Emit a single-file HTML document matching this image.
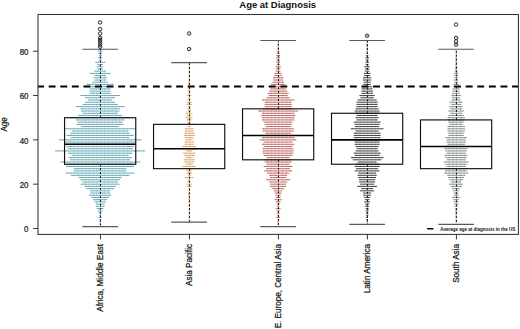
<!DOCTYPE html>
<html><head><meta charset="utf-8"><style>
html,body{margin:0;padding:0;background:#fff;}
svg{display:block;}
text{font-family:"Liberation Sans",sans-serif;fill:#111;}
.t8{font-size:9px;stroke:#111;stroke-width:0.22px;}
</style></head><body>
<svg width="520" height="329" viewBox="0 0 520 329">
<defs>
<pattern id="p0" patternUnits="userSpaceOnUse" x="100.15" y="0" width="3.8" height="3"><rect width="3.8" height="3" fill="#7ab6c0"/><rect width="1.2" height="3" fill="#5d9fab"/></pattern>
<pattern id="p1" patternUnits="userSpaceOnUse" x="189.14" y="0" width="3.8" height="3"><rect width="3.8" height="3" fill="#e3b37e"/><rect width="1.2" height="3" fill="#d09552"/></pattern>
<pattern id="p2" patternUnits="userSpaceOnUse" x="278.13" y="0" width="3.8" height="3"><rect width="3.8" height="3" fill="#c87d76"/><rect width="1.2" height="3" fill="#b5564e"/></pattern>
<pattern id="p3" patternUnits="userSpaceOnUse" x="367.12" y="0" width="3.8" height="3"><rect width="3.8" height="3" fill="#555555"/><rect width="1.2" height="3" fill="#383838"/></pattern>
<pattern id="p4" patternUnits="userSpaceOnUse" x="456.1" y="0" width="3.8" height="3"><rect width="3.8" height="3" fill="#98a29e"/><rect width="1.2" height="3" fill="#6c7672"/></pattern>
</defs>
<rect width="520" height="329" fill="#fff"/>
<text transform="translate(277.7,7.9) scale(1.02,1)" text-anchor="middle" style="font-size:9.3px;font-weight:bold">Age at Diagnosis</text>
<text transform="translate(7.4,124.4) rotate(-90) scale(0.9,1)" text-anchor="middle" class="t8">Age</text>
<g>
<rect x="99.55" y="223.52" width="1.2" height="1.1" fill="url(#p0)"/>
<rect x="99.15" y="221.3" width="2" height="1.1" fill="url(#p0)"/>
<rect x="99.15" y="219.09" width="2" height="1.1" fill="url(#p0)"/>
<rect x="98.65" y="216.87" width="3" height="1.1" fill="url(#p0)"/>
<rect x="99.15" y="214.65" width="2" height="1.1" fill="url(#p0)"/>
<rect x="98.65" y="212.44" width="3" height="1.1" fill="url(#p0)"/>
<rect x="97.75" y="210.22" width="4.8" height="1.1" fill="url(#p0)"/>
<rect x="96.75" y="208.01" width="6.8" height="1.1" fill="url(#p0)"/>
<rect x="95.85" y="205.79" width="8.6" height="1.1" fill="url(#p0)"/>
<rect x="95.65" y="203.57" width="9" height="1.1" fill="url(#p0)"/>
<rect x="94.35" y="201.36" width="11.6" height="1.1" fill="url(#p0)"/>
<rect x="92.95" y="199.14" width="14.4" height="1.1" fill="url(#p0)"/>
<rect x="91.15" y="196.93" width="18" height="1.1" fill="url(#p0)"/>
<rect x="89.15" y="194.71" width="22" height="1.1" fill="url(#p0)"/>
<rect x="90.15" y="192.49" width="20" height="1.1" fill="url(#p0)"/>
<rect x="90.15" y="190.28" width="20" height="1.1" fill="url(#p0)"/>
<rect x="86.25" y="188.06" width="27.8" height="1.1" fill="url(#p0)"/>
<rect x="84.35" y="185.85" width="31.6" height="1.1" fill="url(#p0)"/>
<rect x="80.65" y="183.63" width="39" height="1.1" fill="url(#p0)"/>
<rect x="82.45" y="181.41" width="35.4" height="1.1" fill="url(#p0)"/>
<rect x="80.45" y="179.2" width="39.4" height="1.1" fill="url(#p0)"/>
<rect x="78.55" y="176.98" width="43.2" height="1.1" fill="url(#p0)"/>
<rect x="70.85" y="174.77" width="58.6" height="1.1" fill="url(#p0)"/>
<rect x="65.55" y="172.55" width="69.2" height="1.1" fill="url(#p0)"/>
<rect x="73.75" y="170.33" width="52.8" height="1.1" fill="url(#p0)"/>
<rect x="73.75" y="168.12" width="52.8" height="1.1" fill="url(#p0)"/>
<rect x="66.15" y="165.9" width="68" height="1.1" fill="url(#p0)"/>
<rect x="67.15" y="163.69" width="66" height="1.1" fill="url(#p0)"/>
<rect x="60.15" y="161.47" width="80" height="1.1" fill="url(#p0)"/>
<rect x="70.15" y="159.25" width="60" height="1.1" fill="url(#p0)"/>
<rect x="68.45" y="157.04" width="63.4" height="1.1" fill="url(#p0)"/>
<rect x="71.85" y="154.82" width="56.6" height="1.1" fill="url(#p0)"/>
<rect x="68.15" y="152.61" width="64" height="1.1" fill="url(#p0)"/>
<rect x="55.15" y="150.39" width="90" height="1.1" fill="url(#p0)"/>
<rect x="67.45" y="148.17" width="65.4" height="1.1" fill="url(#p0)"/>
<rect x="66.45" y="145.96" width="67.4" height="1.1" fill="url(#p0)"/>
<rect x="65.15" y="143.74" width="70" height="1.1" fill="url(#p0)"/>
<rect x="65.15" y="141.53" width="70" height="1.1" fill="url(#p0)"/>
<rect x="58.85" y="139.31" width="82.6" height="1.1" fill="url(#p0)"/>
<rect x="70.65" y="137.09" width="59" height="1.1" fill="url(#p0)"/>
<rect x="66.45" y="134.88" width="67.4" height="1.1" fill="url(#p0)"/>
<rect x="70.35" y="132.66" width="59.6" height="1.1" fill="url(#p0)"/>
<rect x="71.85" y="130.45" width="56.6" height="1.1" fill="url(#p0)"/>
<rect x="65.15" y="128.23" width="70" height="1.1" fill="url(#p0)"/>
<rect x="81.45" y="126.01" width="37.4" height="1.1" fill="url(#p0)"/>
<rect x="76.65" y="123.8" width="47" height="1.1" fill="url(#p0)"/>
<rect x="77.65" y="121.58" width="45" height="1.1" fill="url(#p0)"/>
<rect x="75.65" y="119.37" width="49" height="1.1" fill="url(#p0)"/>
<rect x="70.15" y="117.15" width="60" height="1.1" fill="url(#p0)"/>
<rect x="78.15" y="114.93" width="44" height="1.1" fill="url(#p0)"/>
<rect x="82.45" y="112.72" width="35.4" height="1.1" fill="url(#p0)"/>
<rect x="80.95" y="110.5" width="38.4" height="1.1" fill="url(#p0)"/>
<rect x="80.45" y="108.29" width="39.4" height="1.1" fill="url(#p0)"/>
<rect x="75.65" y="106.07" width="49" height="1.1" fill="url(#p0)"/>
<rect x="82.45" y="103.85" width="35.4" height="1.1" fill="url(#p0)"/>
<rect x="85.35" y="101.64" width="29.6" height="1.1" fill="url(#p0)"/>
<rect x="88.15" y="99.42" width="24" height="1.1" fill="url(#p0)"/>
<rect x="85.15" y="97.21" width="30" height="1.1" fill="url(#p0)"/>
<rect x="80.45" y="94.99" width="39.4" height="1.1" fill="url(#p0)"/>
<rect x="89.55" y="92.77" width="21.2" height="1.1" fill="url(#p0)"/>
<rect x="89.55" y="90.56" width="21.2" height="1.1" fill="url(#p0)"/>
<rect x="89.55" y="88.34" width="21.2" height="1.1" fill="url(#p0)"/>
<rect x="89.55" y="86.13" width="21.2" height="1.1" fill="url(#p0)"/>
<rect x="86.65" y="83.91" width="27" height="1.1" fill="url(#p0)"/>
<rect x="92.45" y="81.69" width="15.4" height="1.1" fill="url(#p0)"/>
<rect x="94.35" y="79.48" width="11.6" height="1.1" fill="url(#p0)"/>
<rect x="93.45" y="77.26" width="13.4" height="1.1" fill="url(#p0)"/>
<rect x="94.35" y="75.05" width="11.6" height="1.1" fill="url(#p0)"/>
<rect x="89.55" y="72.83" width="21.2" height="1.1" fill="url(#p0)"/>
<rect x="94.35" y="70.61" width="11.6" height="1.1" fill="url(#p0)"/>
<rect x="97.25" y="68.4" width="5.8" height="1.1" fill="url(#p0)"/>
<rect x="97.25" y="66.18" width="5.8" height="1.1" fill="url(#p0)"/>
<rect x="97.25" y="63.97" width="5.8" height="1.1" fill="url(#p0)"/>
<rect x="95.15" y="61.75" width="10" height="1.1" fill="url(#p0)"/>
<rect x="98.65" y="59.53" width="3" height="1.1" fill="url(#p0)"/>
<rect x="98.25" y="57.32" width="3.8" height="1.1" fill="url(#p0)"/>
<rect x="98.65" y="55.1" width="3" height="1.1" fill="url(#p0)"/>
<rect x="98.15" y="52.89" width="4" height="1.1" fill="url(#p0)"/>
<rect x="98.15" y="50.67" width="4" height="1.1" fill="url(#p0)"/>
<rect x="99.15" y="48.45" width="2" height="1.1" fill="url(#p0)"/>
<rect x="99.15" y="46.24" width="2" height="1.1" fill="url(#p0)"/>
<rect x="99.15" y="44.02" width="2" height="1.1" fill="url(#p0)"/>
<rect x="99.15" y="41.81" width="2" height="1.1" fill="url(#p0)"/>
<rect x="99.15" y="39.59" width="2" height="1.1" fill="url(#p0)"/>
<rect x="99.15" y="37.37" width="2" height="1.1" fill="url(#p0)"/>
<rect x="99.15" y="35.16" width="2" height="1.1" fill="url(#p0)"/>
<rect x="188.54" y="219.09" width="1.2" height="1.1" fill="url(#p1)"/>
<rect x="188.54" y="216.87" width="1.2" height="1.1" fill="url(#p1)"/>
<rect x="188.54" y="214.65" width="1.2" height="1.1" fill="url(#p1)"/>
<rect x="188.54" y="212.44" width="1.2" height="1.1" fill="url(#p1)"/>
<rect x="188.54" y="210.22" width="1.2" height="1.1" fill="url(#p1)"/>
<rect x="188.54" y="208.01" width="1.2" height="1.1" fill="url(#p1)"/>
<rect x="188.34" y="205.79" width="1.6" height="1.1" fill="url(#p1)"/>
<rect x="188.34" y="203.57" width="1.6" height="1.1" fill="url(#p1)"/>
<rect x="188.54" y="201.36" width="1.2" height="1.1" fill="url(#p1)"/>
<rect x="187.94" y="199.14" width="2.4" height="1.1" fill="url(#p1)"/>
<rect x="188.34" y="196.93" width="1.6" height="1.1" fill="url(#p1)"/>
<rect x="188.14" y="194.71" width="2" height="1.1" fill="url(#p1)"/>
<rect x="187.94" y="192.49" width="2.4" height="1.1" fill="url(#p1)"/>
<rect x="188.14" y="190.28" width="2" height="1.1" fill="url(#p1)"/>
<rect x="188.34" y="188.06" width="1.6" height="1.1" fill="url(#p1)"/>
<rect x="186.74" y="185.85" width="4.8" height="1.1" fill="url(#p1)"/>
<rect x="186.74" y="183.63" width="4.8" height="1.1" fill="url(#p1)"/>
<rect x="187.34" y="181.41" width="3.6" height="1.1" fill="url(#p1)"/>
<rect x="187.94" y="179.2" width="2.4" height="1.1" fill="url(#p1)"/>
<rect x="184.94" y="176.98" width="8.4" height="1.1" fill="url(#p1)"/>
<rect x="187.64" y="174.77" width="3" height="1.1" fill="url(#p1)"/>
<rect x="186.34" y="172.55" width="5.6" height="1.1" fill="url(#p1)"/>
<rect x="186.64" y="170.33" width="5" height="1.1" fill="url(#p1)"/>
<rect x="185.14" y="168.12" width="8" height="1.1" fill="url(#p1)"/>
<rect x="182.44" y="165.9" width="13.4" height="1.1" fill="url(#p1)"/>
<rect x="185.54" y="163.69" width="7.2" height="1.1" fill="url(#p1)"/>
<rect x="184.24" y="161.47" width="9.8" height="1.1" fill="url(#p1)"/>
<rect x="183.64" y="159.25" width="11" height="1.1" fill="url(#p1)"/>
<rect x="185.54" y="157.04" width="7.2" height="1.1" fill="url(#p1)"/>
<rect x="184.24" y="154.82" width="9.8" height="1.1" fill="url(#p1)"/>
<rect x="183.14" y="152.61" width="12" height="1.1" fill="url(#p1)"/>
<rect x="186.14" y="150.39" width="6" height="1.1" fill="url(#p1)"/>
<rect x="182.44" y="148.17" width="13.4" height="1.1" fill="url(#p1)"/>
<rect x="182.44" y="145.96" width="13.4" height="1.1" fill="url(#p1)"/>
<rect x="184.84" y="143.74" width="8.6" height="1.1" fill="url(#p1)"/>
<rect x="184.24" y="141.53" width="9.8" height="1.1" fill="url(#p1)"/>
<rect x="185.54" y="139.31" width="7.2" height="1.1" fill="url(#p1)"/>
<rect x="184.84" y="137.09" width="8.6" height="1.1" fill="url(#p1)"/>
<rect x="183.64" y="134.88" width="11" height="1.1" fill="url(#p1)"/>
<rect x="184.24" y="132.66" width="9.8" height="1.1" fill="url(#p1)"/>
<rect x="184.84" y="130.45" width="8.6" height="1.1" fill="url(#p1)"/>
<rect x="184.84" y="128.23" width="8.6" height="1.1" fill="url(#p1)"/>
<rect x="187.64" y="126.01" width="3" height="1.1" fill="url(#p1)"/>
<rect x="184.24" y="123.8" width="9.8" height="1.1" fill="url(#p1)"/>
<rect x="187.34" y="121.58" width="3.6" height="1.1" fill="url(#p1)"/>
<rect x="186.44" y="119.37" width="5.4" height="1.1" fill="url(#p1)"/>
<rect x="185.74" y="117.15" width="6.8" height="1.1" fill="url(#p1)"/>
<rect x="186.94" y="114.93" width="4.4" height="1.1" fill="url(#p1)"/>
<rect x="185.54" y="112.72" width="7.2" height="1.1" fill="url(#p1)"/>
<rect x="187.34" y="110.5" width="3.6" height="1.1" fill="url(#p1)"/>
<rect x="187.34" y="108.29" width="3.6" height="1.1" fill="url(#p1)"/>
<rect x="187.94" y="106.07" width="2.4" height="1.1" fill="url(#p1)"/>
<rect x="186.44" y="103.85" width="5.4" height="1.1" fill="url(#p1)"/>
<rect x="186.44" y="101.64" width="5.4" height="1.1" fill="url(#p1)"/>
<rect x="187.64" y="99.42" width="3" height="1.1" fill="url(#p1)"/>
<rect x="188.14" y="97.21" width="2" height="1.1" fill="url(#p1)"/>
<rect x="186.94" y="94.99" width="4.4" height="1.1" fill="url(#p1)"/>
<rect x="188.14" y="92.77" width="2" height="1.1" fill="url(#p1)"/>
<rect x="187.94" y="90.56" width="2.4" height="1.1" fill="url(#p1)"/>
<rect x="187.64" y="88.34" width="3" height="1.1" fill="url(#p1)"/>
<rect x="188.14" y="86.13" width="2" height="1.1" fill="url(#p1)"/>
<rect x="187.94" y="83.91" width="2.4" height="1.1" fill="url(#p1)"/>
<rect x="188.14" y="81.69" width="2" height="1.1" fill="url(#p1)"/>
<rect x="188.54" y="79.48" width="1.2" height="1.1" fill="url(#p1)"/>
<rect x="188.34" y="77.26" width="1.6" height="1.1" fill="url(#p1)"/>
<rect x="188.54" y="75.05" width="1.2" height="1.1" fill="url(#p1)"/>
<rect x="188.34" y="72.83" width="1.6" height="1.1" fill="url(#p1)"/>
<rect x="188.54" y="70.61" width="1.2" height="1.1" fill="url(#p1)"/>
<rect x="188.54" y="68.4" width="1.2" height="1.1" fill="url(#p1)"/>
<rect x="188.54" y="66.18" width="1.2" height="1.1" fill="url(#p1)"/>
<rect x="188.54" y="63.97" width="1.2" height="1.1" fill="url(#p1)"/>
<rect x="188.54" y="61.75" width="1.2" height="1.1" fill="url(#p1)"/>
<rect x="188.54" y="48.45" width="1.2" height="1.1" fill="url(#p1)"/>
<rect x="188.54" y="32.94" width="1.2" height="1.1" fill="url(#p1)"/>
<rect x="277.53" y="223.52" width="1.2" height="1.1" fill="url(#p2)"/>
<rect x="277.33" y="221.3" width="1.6" height="1.1" fill="url(#p2)"/>
<rect x="277.33" y="219.09" width="1.6" height="1.1" fill="url(#p2)"/>
<rect x="276.13" y="216.87" width="4" height="1.1" fill="url(#p2)"/>
<rect x="277.13" y="214.65" width="2" height="1.1" fill="url(#p2)"/>
<rect x="276.63" y="212.44" width="3" height="1.1" fill="url(#p2)"/>
<rect x="276.63" y="210.22" width="3" height="1.1" fill="url(#p2)"/>
<rect x="275.63" y="208.01" width="5" height="1.1" fill="url(#p2)"/>
<rect x="277.13" y="205.79" width="2" height="1.1" fill="url(#p2)"/>
<rect x="276.63" y="203.57" width="3" height="1.1" fill="url(#p2)"/>
<rect x="275.63" y="201.36" width="5" height="1.1" fill="url(#p2)"/>
<rect x="274.63" y="199.14" width="7" height="1.1" fill="url(#p2)"/>
<rect x="275.63" y="196.93" width="5" height="1.1" fill="url(#p2)"/>
<rect x="275.63" y="194.71" width="5" height="1.1" fill="url(#p2)"/>
<rect x="274.73" y="192.49" width="6.8" height="1.1" fill="url(#p2)"/>
<rect x="274.13" y="190.28" width="8" height="1.1" fill="url(#p2)"/>
<rect x="272.13" y="188.06" width="12" height="1.1" fill="url(#p2)"/>
<rect x="270.13" y="185.85" width="16" height="1.1" fill="url(#p2)"/>
<rect x="270.13" y="183.63" width="16" height="1.1" fill="url(#p2)"/>
<rect x="269.13" y="181.41" width="18" height="1.1" fill="url(#p2)"/>
<rect x="266.13" y="179.2" width="24" height="1.1" fill="url(#p2)"/>
<rect x="270.13" y="176.98" width="16" height="1.1" fill="url(#p2)"/>
<rect x="269.13" y="174.77" width="18" height="1.1" fill="url(#p2)"/>
<rect x="267.13" y="172.55" width="22" height="1.1" fill="url(#p2)"/>
<rect x="264.13" y="170.33" width="28" height="1.1" fill="url(#p2)"/>
<rect x="266.13" y="168.12" width="24" height="1.1" fill="url(#p2)"/>
<rect x="263.73" y="165.9" width="28.8" height="1.1" fill="url(#p2)"/>
<rect x="266.63" y="163.69" width="23" height="1.1" fill="url(#p2)"/>
<rect x="264.63" y="161.47" width="27" height="1.1" fill="url(#p2)"/>
<rect x="264.13" y="159.25" width="28" height="1.1" fill="url(#p2)"/>
<rect x="266.63" y="157.04" width="23" height="1.1" fill="url(#p2)"/>
<rect x="263.73" y="154.82" width="28.8" height="1.1" fill="url(#p2)"/>
<rect x="262.73" y="152.61" width="30.8" height="1.1" fill="url(#p2)"/>
<rect x="262.73" y="150.39" width="30.8" height="1.1" fill="url(#p2)"/>
<rect x="262.73" y="148.17" width="30.8" height="1.1" fill="url(#p2)"/>
<rect x="263.73" y="145.96" width="28.8" height="1.1" fill="url(#p2)"/>
<rect x="261.83" y="143.74" width="32.6" height="1.1" fill="url(#p2)"/>
<rect x="263.73" y="141.53" width="28.8" height="1.1" fill="url(#p2)"/>
<rect x="259.83" y="139.31" width="36.6" height="1.1" fill="url(#p2)"/>
<rect x="261.83" y="137.09" width="32.6" height="1.1" fill="url(#p2)"/>
<rect x="263.13" y="134.88" width="30" height="1.1" fill="url(#p2)"/>
<rect x="265.63" y="132.66" width="25" height="1.1" fill="url(#p2)"/>
<rect x="262.73" y="130.45" width="30.8" height="1.1" fill="url(#p2)"/>
<rect x="262.33" y="128.23" width="31.6" height="1.1" fill="url(#p2)"/>
<rect x="265.63" y="126.01" width="25" height="1.1" fill="url(#p2)"/>
<rect x="264.63" y="123.8" width="27" height="1.1" fill="url(#p2)"/>
<rect x="263.73" y="121.58" width="28.8" height="1.1" fill="url(#p2)"/>
<rect x="261.83" y="119.37" width="32.6" height="1.1" fill="url(#p2)"/>
<rect x="261.83" y="117.15" width="32.6" height="1.1" fill="url(#p2)"/>
<rect x="260.83" y="114.93" width="34.6" height="1.1" fill="url(#p2)"/>
<rect x="261.83" y="112.72" width="32.6" height="1.1" fill="url(#p2)"/>
<rect x="258.13" y="110.5" width="40" height="1.1" fill="url(#p2)"/>
<rect x="263.13" y="108.29" width="30" height="1.1" fill="url(#p2)"/>
<rect x="264.63" y="106.07" width="27" height="1.1" fill="url(#p2)"/>
<rect x="264.63" y="103.85" width="27" height="1.1" fill="url(#p2)"/>
<rect x="264.63" y="101.64" width="27" height="1.1" fill="url(#p2)"/>
<rect x="261.83" y="99.42" width="32.6" height="1.1" fill="url(#p2)"/>
<rect x="266.63" y="97.21" width="23" height="1.1" fill="url(#p2)"/>
<rect x="268.53" y="94.99" width="19.2" height="1.1" fill="url(#p2)"/>
<rect x="267.53" y="92.77" width="21.2" height="1.1" fill="url(#p2)"/>
<rect x="269.13" y="90.56" width="18" height="1.1" fill="url(#p2)"/>
<rect x="270.43" y="88.34" width="15.4" height="1.1" fill="url(#p2)"/>
<rect x="270.43" y="86.13" width="15.4" height="1.1" fill="url(#p2)"/>
<rect x="271.13" y="83.91" width="14" height="1.1" fill="url(#p2)"/>
<rect x="272.33" y="81.69" width="11.6" height="1.1" fill="url(#p2)"/>
<rect x="273.33" y="79.48" width="9.6" height="1.1" fill="url(#p2)"/>
<rect x="273.03" y="77.26" width="10.2" height="1.1" fill="url(#p2)"/>
<rect x="274.33" y="75.05" width="7.6" height="1.1" fill="url(#p2)"/>
<rect x="274.53" y="72.83" width="7.2" height="1.1" fill="url(#p2)"/>
<rect x="275.83" y="70.61" width="4.6" height="1.1" fill="url(#p2)"/>
<rect x="275.83" y="68.4" width="4.6" height="1.1" fill="url(#p2)"/>
<rect x="275.53" y="66.18" width="5.2" height="1.1" fill="url(#p2)"/>
<rect x="276.53" y="63.97" width="3.2" height="1.1" fill="url(#p2)"/>
<rect x="276.23" y="61.75" width="3.8" height="1.1" fill="url(#p2)"/>
<rect x="276.23" y="59.53" width="3.8" height="1.1" fill="url(#p2)"/>
<rect x="276.23" y="57.32" width="3.8" height="1.1" fill="url(#p2)"/>
<rect x="276.23" y="55.1" width="3.8" height="1.1" fill="url(#p2)"/>
<rect x="276.83" y="52.89" width="2.6" height="1.1" fill="url(#p2)"/>
<rect x="277.13" y="50.67" width="2" height="1.1" fill="url(#p2)"/>
<rect x="277.33" y="48.45" width="1.6" height="1.1" fill="url(#p2)"/>
<rect x="277.53" y="46.24" width="1.2" height="1.1" fill="url(#p2)"/>
<rect x="277.53" y="44.02" width="1.2" height="1.1" fill="url(#p2)"/>
<rect x="277.53" y="41.81" width="1.2" height="1.1" fill="url(#p2)"/>
<rect x="366.52" y="221.3" width="1.2" height="1.1" fill="url(#p3)"/>
<rect x="366.32" y="219.09" width="1.6" height="1.1" fill="url(#p3)"/>
<rect x="366.12" y="216.87" width="2" height="1.1" fill="url(#p3)"/>
<rect x="365.92" y="214.65" width="2.4" height="1.1" fill="url(#p3)"/>
<rect x="365.92" y="212.44" width="2.4" height="1.1" fill="url(#p3)"/>
<rect x="365.62" y="210.22" width="3" height="1.1" fill="url(#p3)"/>
<rect x="365.62" y="208.01" width="3" height="1.1" fill="url(#p3)"/>
<rect x="365.12" y="205.79" width="4" height="1.1" fill="url(#p3)"/>
<rect x="365.12" y="203.57" width="4" height="1.1" fill="url(#p3)"/>
<rect x="364.12" y="201.36" width="6" height="1.1" fill="url(#p3)"/>
<rect x="364.72" y="199.14" width="4.8" height="1.1" fill="url(#p3)"/>
<rect x="364.12" y="196.93" width="6" height="1.1" fill="url(#p3)"/>
<rect x="363.12" y="194.71" width="8" height="1.1" fill="url(#p3)"/>
<rect x="363.12" y="192.49" width="8" height="1.1" fill="url(#p3)"/>
<rect x="360.12" y="190.28" width="14" height="1.1" fill="url(#p3)"/>
<rect x="361.12" y="188.06" width="12" height="1.1" fill="url(#p3)"/>
<rect x="357.12" y="185.85" width="20" height="1.1" fill="url(#p3)"/>
<rect x="360.12" y="183.63" width="14" height="1.1" fill="url(#p3)"/>
<rect x="359.12" y="181.41" width="16" height="1.1" fill="url(#p3)"/>
<rect x="359.12" y="179.2" width="16" height="1.1" fill="url(#p3)"/>
<rect x="358.12" y="176.98" width="18" height="1.1" fill="url(#p3)"/>
<rect x="357.52" y="174.77" width="19.2" height="1.1" fill="url(#p3)"/>
<rect x="358.12" y="172.55" width="18" height="1.1" fill="url(#p3)"/>
<rect x="354.72" y="170.33" width="24.8" height="1.1" fill="url(#p3)"/>
<rect x="356.12" y="168.12" width="22" height="1.1" fill="url(#p3)"/>
<rect x="354.62" y="165.9" width="25" height="1.1" fill="url(#p3)"/>
<rect x="355.12" y="163.69" width="24" height="1.1" fill="url(#p3)"/>
<rect x="357.52" y="161.47" width="19.2" height="1.1" fill="url(#p3)"/>
<rect x="352.72" y="159.25" width="28.8" height="1.1" fill="url(#p3)"/>
<rect x="350.82" y="157.04" width="32.6" height="1.1" fill="url(#p3)"/>
<rect x="354.62" y="154.82" width="25" height="1.1" fill="url(#p3)"/>
<rect x="353.62" y="152.61" width="27" height="1.1" fill="url(#p3)"/>
<rect x="355.62" y="150.39" width="23" height="1.1" fill="url(#p3)"/>
<rect x="356.52" y="148.17" width="21.2" height="1.1" fill="url(#p3)"/>
<rect x="355.62" y="145.96" width="23" height="1.1" fill="url(#p3)"/>
<rect x="354.62" y="143.74" width="25" height="1.1" fill="url(#p3)"/>
<rect x="354.62" y="141.53" width="25" height="1.1" fill="url(#p3)"/>
<rect x="354.12" y="139.31" width="26" height="1.1" fill="url(#p3)"/>
<rect x="353.62" y="137.09" width="27" height="1.1" fill="url(#p3)"/>
<rect x="353.62" y="134.88" width="27" height="1.1" fill="url(#p3)"/>
<rect x="353.62" y="132.66" width="27" height="1.1" fill="url(#p3)"/>
<rect x="355.62" y="130.45" width="23" height="1.1" fill="url(#p3)"/>
<rect x="350.82" y="128.23" width="32.6" height="1.1" fill="url(#p3)"/>
<rect x="355.12" y="126.01" width="24" height="1.1" fill="url(#p3)"/>
<rect x="354.62" y="123.8" width="25" height="1.1" fill="url(#p3)"/>
<rect x="353.62" y="121.58" width="27" height="1.1" fill="url(#p3)"/>
<rect x="356.52" y="119.37" width="21.2" height="1.1" fill="url(#p3)"/>
<rect x="355.62" y="117.15" width="23" height="1.1" fill="url(#p3)"/>
<rect x="356.52" y="114.93" width="21.2" height="1.1" fill="url(#p3)"/>
<rect x="355.12" y="112.72" width="24" height="1.1" fill="url(#p3)"/>
<rect x="354.62" y="110.5" width="25" height="1.1" fill="url(#p3)"/>
<rect x="355.62" y="108.29" width="23" height="1.1" fill="url(#p3)"/>
<rect x="356.52" y="106.07" width="21.2" height="1.1" fill="url(#p3)"/>
<rect x="356.52" y="103.85" width="21.2" height="1.1" fill="url(#p3)"/>
<rect x="356.52" y="101.64" width="21.2" height="1.1" fill="url(#p3)"/>
<rect x="357.52" y="99.42" width="19.2" height="1.1" fill="url(#p3)"/>
<rect x="360.42" y="97.21" width="13.4" height="1.1" fill="url(#p3)"/>
<rect x="359.42" y="94.99" width="15.4" height="1.1" fill="url(#p3)"/>
<rect x="361.32" y="92.77" width="11.6" height="1.1" fill="url(#p3)"/>
<rect x="361.32" y="90.56" width="11.6" height="1.1" fill="url(#p3)"/>
<rect x="361.72" y="88.34" width="10.8" height="1.1" fill="url(#p3)"/>
<rect x="362.32" y="86.13" width="9.6" height="1.1" fill="url(#p3)"/>
<rect x="363.32" y="83.91" width="7.6" height="1.1" fill="url(#p3)"/>
<rect x="363.62" y="81.69" width="7" height="1.1" fill="url(#p3)"/>
<rect x="362.92" y="79.48" width="8.4" height="1.1" fill="url(#p3)"/>
<rect x="362.92" y="77.26" width="8.4" height="1.1" fill="url(#p3)"/>
<rect x="364.12" y="75.05" width="6" height="1.1" fill="url(#p3)"/>
<rect x="363.82" y="72.83" width="6.6" height="1.1" fill="url(#p3)"/>
<rect x="364.82" y="70.61" width="4.6" height="1.1" fill="url(#p3)"/>
<rect x="364.82" y="68.4" width="4.6" height="1.1" fill="url(#p3)"/>
<rect x="364.42" y="66.18" width="5.4" height="1.1" fill="url(#p3)"/>
<rect x="365.62" y="63.97" width="3" height="1.1" fill="url(#p3)"/>
<rect x="365.32" y="61.75" width="3.6" height="1.1" fill="url(#p3)"/>
<rect x="365.62" y="59.53" width="3" height="1.1" fill="url(#p3)"/>
<rect x="365.32" y="57.32" width="3.6" height="1.1" fill="url(#p3)"/>
<rect x="365.92" y="55.1" width="2.4" height="1.1" fill="url(#p3)"/>
<rect x="366.52" y="52.89" width="1.2" height="1.1" fill="url(#p3)"/>
<rect x="366.52" y="50.67" width="1.2" height="1.1" fill="url(#p3)"/>
<rect x="366.52" y="48.45" width="1.2" height="1.1" fill="url(#p3)"/>
<rect x="366.52" y="46.24" width="1.2" height="1.1" fill="url(#p3)"/>
<rect x="366.52" y="44.02" width="1.2" height="1.1" fill="url(#p3)"/>
<rect x="366.52" y="41.81" width="1.2" height="1.1" fill="url(#p3)"/>
<rect x="366.52" y="35.16" width="1.2" height="1.1" fill="url(#p3)"/>
<rect x="455.5" y="221.3" width="1.2" height="1.1" fill="url(#p4)"/>
<rect x="455.5" y="219.09" width="1.2" height="1.1" fill="url(#p4)"/>
<rect x="455.3" y="216.87" width="1.6" height="1.1" fill="url(#p4)"/>
<rect x="455.3" y="214.65" width="1.6" height="1.1" fill="url(#p4)"/>
<rect x="455.1" y="212.44" width="2" height="1.1" fill="url(#p4)"/>
<rect x="454.9" y="210.22" width="2.4" height="1.1" fill="url(#p4)"/>
<rect x="454.9" y="208.01" width="2.4" height="1.1" fill="url(#p4)"/>
<rect x="454.6" y="205.79" width="3" height="1.1" fill="url(#p4)"/>
<rect x="454.1" y="203.57" width="4" height="1.1" fill="url(#p4)"/>
<rect x="453.7" y="201.36" width="4.8" height="1.1" fill="url(#p4)"/>
<rect x="453.1" y="199.14" width="6" height="1.1" fill="url(#p4)"/>
<rect x="452.1" y="196.93" width="8" height="1.1" fill="url(#p4)"/>
<rect x="453.6" y="194.71" width="5" height="1.1" fill="url(#p4)"/>
<rect x="453.7" y="192.49" width="4.8" height="1.1" fill="url(#p4)"/>
<rect x="453.1" y="190.28" width="6" height="1.1" fill="url(#p4)"/>
<rect x="452.1" y="188.06" width="8" height="1.1" fill="url(#p4)"/>
<rect x="450.5" y="185.85" width="11.2" height="1.1" fill="url(#p4)"/>
<rect x="449.1" y="183.63" width="14" height="1.1" fill="url(#p4)"/>
<rect x="451.1" y="181.41" width="10" height="1.1" fill="url(#p4)"/>
<rect x="449.1" y="179.2" width="14" height="1.1" fill="url(#p4)"/>
<rect x="448.1" y="176.98" width="16" height="1.1" fill="url(#p4)"/>
<rect x="447.1" y="174.77" width="18" height="1.1" fill="url(#p4)"/>
<rect x="444.1" y="172.55" width="24" height="1.1" fill="url(#p4)"/>
<rect x="445.1" y="170.33" width="22" height="1.1" fill="url(#p4)"/>
<rect x="445.1" y="168.12" width="22" height="1.1" fill="url(#p4)"/>
<rect x="446.5" y="165.9" width="19.2" height="1.1" fill="url(#p4)"/>
<rect x="445.5" y="163.69" width="21.2" height="1.1" fill="url(#p4)"/>
<rect x="443.6" y="161.47" width="25" height="1.1" fill="url(#p4)"/>
<rect x="446.5" y="159.25" width="19.2" height="1.1" fill="url(#p4)"/>
<rect x="445.5" y="157.04" width="21.2" height="1.1" fill="url(#p4)"/>
<rect x="444.6" y="154.82" width="23" height="1.1" fill="url(#p4)"/>
<rect x="446.5" y="152.61" width="19.2" height="1.1" fill="url(#p4)"/>
<rect x="445.5" y="150.39" width="21.2" height="1.1" fill="url(#p4)"/>
<rect x="444.6" y="148.17" width="23" height="1.1" fill="url(#p4)"/>
<rect x="446.1" y="145.96" width="20" height="1.1" fill="url(#p4)"/>
<rect x="447.4" y="143.74" width="17.4" height="1.1" fill="url(#p4)"/>
<rect x="446.5" y="141.53" width="19.2" height="1.1" fill="url(#p4)"/>
<rect x="446.5" y="139.31" width="19.2" height="1.1" fill="url(#p4)"/>
<rect x="445.5" y="137.09" width="21.2" height="1.1" fill="url(#p4)"/>
<rect x="448.4" y="134.88" width="15.4" height="1.1" fill="url(#p4)"/>
<rect x="448.4" y="132.66" width="15.4" height="1.1" fill="url(#p4)"/>
<rect x="447.4" y="130.45" width="17.4" height="1.1" fill="url(#p4)"/>
<rect x="447.4" y="128.23" width="17.4" height="1.1" fill="url(#p4)"/>
<rect x="447.4" y="126.01" width="17.4" height="1.1" fill="url(#p4)"/>
<rect x="449.4" y="123.8" width="13.4" height="1.1" fill="url(#p4)"/>
<rect x="448.4" y="121.58" width="15.4" height="1.1" fill="url(#p4)"/>
<rect x="448.1" y="119.37" width="16" height="1.1" fill="url(#p4)"/>
<rect x="447.4" y="117.15" width="17.4" height="1.1" fill="url(#p4)"/>
<rect x="448.4" y="114.93" width="15.4" height="1.1" fill="url(#p4)"/>
<rect x="450.1" y="112.72" width="12" height="1.1" fill="url(#p4)"/>
<rect x="448.4" y="110.5" width="15.4" height="1.1" fill="url(#p4)"/>
<rect x="450.1" y="108.29" width="12" height="1.1" fill="url(#p4)"/>
<rect x="449.4" y="106.07" width="13.4" height="1.1" fill="url(#p4)"/>
<rect x="451.1" y="103.85" width="10" height="1.1" fill="url(#p4)"/>
<rect x="449.4" y="101.64" width="13.4" height="1.1" fill="url(#p4)"/>
<rect x="451.6" y="99.42" width="9" height="1.1" fill="url(#p4)"/>
<rect x="452.1" y="97.21" width="8" height="1.1" fill="url(#p4)"/>
<rect x="451.3" y="94.99" width="9.6" height="1.1" fill="url(#p4)"/>
<rect x="452.3" y="92.77" width="7.6" height="1.1" fill="url(#p4)"/>
<rect x="452.6" y="90.56" width="7" height="1.1" fill="url(#p4)"/>
<rect x="452.6" y="88.34" width="7" height="1.1" fill="url(#p4)"/>
<rect x="453.4" y="86.13" width="5.4" height="1.1" fill="url(#p4)"/>
<rect x="453.4" y="83.91" width="5.4" height="1.1" fill="url(#p4)"/>
<rect x="454.2" y="81.69" width="3.8" height="1.1" fill="url(#p4)"/>
<rect x="453.8" y="79.48" width="4.6" height="1.1" fill="url(#p4)"/>
<rect x="454.3" y="77.26" width="3.6" height="1.1" fill="url(#p4)"/>
<rect x="454.3" y="75.05" width="3.6" height="1.1" fill="url(#p4)"/>
<rect x="453.8" y="72.83" width="4.6" height="1.1" fill="url(#p4)"/>
<rect x="454.6" y="70.61" width="3" height="1.1" fill="url(#p4)"/>
<rect x="454.9" y="68.4" width="2.4" height="1.1" fill="url(#p4)"/>
<rect x="454.9" y="66.18" width="2.4" height="1.1" fill="url(#p4)"/>
<rect x="455.2" y="63.97" width="1.8" height="1.1" fill="url(#p4)"/>
<rect x="455.2" y="61.75" width="1.8" height="1.1" fill="url(#p4)"/>
<rect x="455.2" y="59.53" width="1.8" height="1.1" fill="url(#p4)"/>
<rect x="455.3" y="57.32" width="1.6" height="1.1" fill="url(#p4)"/>
<rect x="455.5" y="55.1" width="1.2" height="1.1" fill="url(#p4)"/>
<rect x="455.5" y="52.89" width="1.2" height="1.1" fill="url(#p4)"/>
<rect x="455.5" y="50.67" width="1.2" height="1.1" fill="url(#p4)"/>
<rect x="455.5" y="44.02" width="1.2" height="1.1" fill="url(#p4)"/>
<rect x="455.5" y="41.81" width="1.2" height="1.1" fill="url(#p4)"/>
<rect x="455.5" y="37.37" width="1.2" height="1.1" fill="url(#p4)"/>
<line x1="100.45" y1="117.7" x2="100.45" y2="49" stroke="#111" stroke-width="1" stroke-dasharray="2,1.95"/>
<line x1="100.45" y1="164.24" x2="100.45" y2="226.28" stroke="#111" stroke-width="1" stroke-dasharray="2,1.95"/>
<line x1="82.35" y1="49.3" x2="117.95" y2="49.3" stroke="#5a5a5a" stroke-width="1.1"/>
<line x1="82.35" y1="226.58" x2="117.95" y2="226.58" stroke="#5a5a5a" stroke-width="1.1"/>
<rect x="64.55" y="117.7" width="71.2" height="46.54" fill="none" stroke="#111" stroke-width="1.15"/>
<line x1="64.55" y1="144.29" x2="135.75" y2="144.29" stroke="#000" stroke-width="1.6"/>
<circle cx="100.15" cy="46.79" r="1.75" fill="none" stroke="#222" stroke-width="0.95"/>
<circle cx="100.15" cy="44.57" r="1.75" fill="none" stroke="#222" stroke-width="0.95"/>
<circle cx="100.15" cy="42.36" r="1.75" fill="none" stroke="#222" stroke-width="0.95"/>
<circle cx="100.15" cy="40.14" r="1.75" fill="none" stroke="#222" stroke-width="0.95"/>
<circle cx="100.15" cy="37.92" r="1.75" fill="none" stroke="#222" stroke-width="0.95"/>
<circle cx="100.15" cy="33.49" r="1.75" fill="none" stroke="#222" stroke-width="0.95"/>
<circle cx="100.15" cy="29.06" r="1.75" fill="none" stroke="#222" stroke-width="0.95"/>
<circle cx="100.15" cy="22.41" r="1.75" fill="none" stroke="#222" stroke-width="0.95"/>
<line x1="189.44" y1="124.35" x2="189.44" y2="62.3" stroke="#111" stroke-width="1" stroke-dasharray="2,1.95"/>
<line x1="189.44" y1="168.67" x2="189.44" y2="221.85" stroke="#111" stroke-width="1" stroke-dasharray="2,1.95"/>
<line x1="171.34" y1="62.6" x2="206.94" y2="62.6" stroke="#5a5a5a" stroke-width="1.1"/>
<line x1="171.34" y1="222.15" x2="206.94" y2="222.15" stroke="#5a5a5a" stroke-width="1.1"/>
<rect x="153.54" y="124.35" width="71.2" height="44.32" fill="none" stroke="#111" stroke-width="1.15"/>
<line x1="153.54" y1="148.72" x2="224.74" y2="148.72" stroke="#000" stroke-width="1.6"/>
<circle cx="189.14" cy="49" r="1.75" fill="none" stroke="#222" stroke-width="0.95"/>
<circle cx="189.14" cy="33.49" r="1.75" fill="none" stroke="#222" stroke-width="0.95"/>
<line x1="278.43" y1="108.84" x2="278.43" y2="40.14" stroke="#111" stroke-width="1" stroke-dasharray="2,1.95"/>
<line x1="278.43" y1="159.8" x2="278.43" y2="226.28" stroke="#111" stroke-width="1" stroke-dasharray="2,1.95"/>
<line x1="260.33" y1="40.44" x2="295.93" y2="40.44" stroke="#5a5a5a" stroke-width="1.1"/>
<line x1="260.33" y1="226.58" x2="295.93" y2="226.58" stroke="#5a5a5a" stroke-width="1.1"/>
<rect x="242.53" y="108.84" width="71.2" height="50.97" fill="none" stroke="#111" stroke-width="1.15"/>
<line x1="242.53" y1="135.43" x2="313.73" y2="135.43" stroke="#000" stroke-width="1.6"/>
<line x1="367.42" y1="113.27" x2="367.42" y2="40.14" stroke="#111" stroke-width="1" stroke-dasharray="2,1.95"/>
<line x1="367.42" y1="164.24" x2="367.42" y2="224.07" stroke="#111" stroke-width="1" stroke-dasharray="2,1.95"/>
<line x1="349.32" y1="40.44" x2="384.92" y2="40.44" stroke="#5a5a5a" stroke-width="1.1"/>
<line x1="349.32" y1="224.37" x2="384.92" y2="224.37" stroke="#5a5a5a" stroke-width="1.1"/>
<rect x="331.52" y="113.27" width="71.2" height="50.97" fill="none" stroke="#111" stroke-width="1.15"/>
<line x1="331.52" y1="139.86" x2="402.72" y2="139.86" stroke="#000" stroke-width="1.6"/>
<circle cx="367.12" cy="35.71" r="1.75" fill="none" stroke="#222" stroke-width="0.95"/>
<line x1="456.4" y1="119.92" x2="456.4" y2="49" stroke="#111" stroke-width="1" stroke-dasharray="2,1.95"/>
<line x1="456.4" y1="168.67" x2="456.4" y2="224.07" stroke="#111" stroke-width="1" stroke-dasharray="2,1.95"/>
<line x1="438.3" y1="49.3" x2="473.9" y2="49.3" stroke="#5a5a5a" stroke-width="1.1"/>
<line x1="438.3" y1="224.37" x2="473.9" y2="224.37" stroke="#5a5a5a" stroke-width="1.1"/>
<rect x="420.5" y="119.92" width="71.2" height="48.75" fill="none" stroke="#111" stroke-width="1.15"/>
<line x1="420.5" y1="146.51" x2="491.7" y2="146.51" stroke="#000" stroke-width="1.6"/>
<circle cx="456.1" cy="24.6" r="1.75" fill="none" stroke="#222" stroke-width="0.95"/>
<circle cx="456.1" cy="37.9" r="1.75" fill="none" stroke="#222" stroke-width="0.95"/>
<circle cx="456.1" cy="41.5" r="1.75" fill="none" stroke="#222" stroke-width="0.95"/>
<circle cx="456.1" cy="44.6" r="1.75" fill="none" stroke="#222" stroke-width="0.95"/>
</g>
<line x1="38" y1="86.6" x2="518" y2="86.6" stroke="#000" stroke-width="2" stroke-dasharray="6.9,4.684" stroke-dashoffset="0.884"/>
<line x1="427.7" y1="228.8" x2="432.8" y2="228.8" stroke="#000" stroke-width="1.6" stroke-linecap="round"/>
<text x="440.3" y="230.6" style="font-size:4.5px;font-weight:bold">Average age at diagnosis in the US</text>
<rect x="38" y="14.5" width="480.4" height="219.9" fill="none" stroke="#333" stroke-width="1.05"/>
<line x1="33.1" y1="228.5" x2="38" y2="228.5" stroke="#333" stroke-width="1"/>
<text transform="translate(28.5,232.3) scale(0.88,1)" text-anchor="end" class="t8">0</text>
<line x1="33.1" y1="184.18" x2="38" y2="184.18" stroke="#333" stroke-width="1"/>
<text transform="translate(28.5,187.98) scale(0.88,1)" text-anchor="end" class="t8">20</text>
<line x1="33.1" y1="139.86" x2="38" y2="139.86" stroke="#333" stroke-width="1"/>
<text transform="translate(28.5,143.66) scale(0.88,1)" text-anchor="end" class="t8">40</text>
<line x1="33.1" y1="95.54" x2="38" y2="95.54" stroke="#333" stroke-width="1"/>
<text transform="translate(28.5,99.34) scale(0.88,1)" text-anchor="end" class="t8">60</text>
<line x1="33.1" y1="51.22" x2="38" y2="51.22" stroke="#333" stroke-width="1"/>
<text transform="translate(28.5,55.02) scale(0.88,1)" text-anchor="end" class="t8">80</text>
<line x1="100.45" y1="234" x2="100.45" y2="239.4" stroke="#333" stroke-width="1"/>
<text transform="translate(103.45,244) rotate(-90) scale(0.903,1)" text-anchor="end" class="t8">Africa, Middle East</text>
<line x1="189.44" y1="234" x2="189.44" y2="239.4" stroke="#333" stroke-width="1"/>
<text transform="translate(192.44,244) rotate(-90) scale(0.903,1)" text-anchor="end" class="t8">Asia Pacific</text>
<line x1="278.43" y1="234" x2="278.43" y2="239.4" stroke="#333" stroke-width="1"/>
<text transform="translate(281.43,244) rotate(-90) scale(0.903,1)" text-anchor="end" class="t8">E. Europe, Central Asia</text>
<line x1="367.42" y1="234" x2="367.42" y2="239.4" stroke="#333" stroke-width="1"/>
<text transform="translate(370.42,244) rotate(-90) scale(0.903,1)" text-anchor="end" class="t8">Latin America</text>
<line x1="456.4" y1="234" x2="456.4" y2="239.4" stroke="#333" stroke-width="1"/>
<text transform="translate(459.4,244) rotate(-90) scale(0.903,1)" text-anchor="end" class="t8">South Asia</text>
</svg>
</body></html>
